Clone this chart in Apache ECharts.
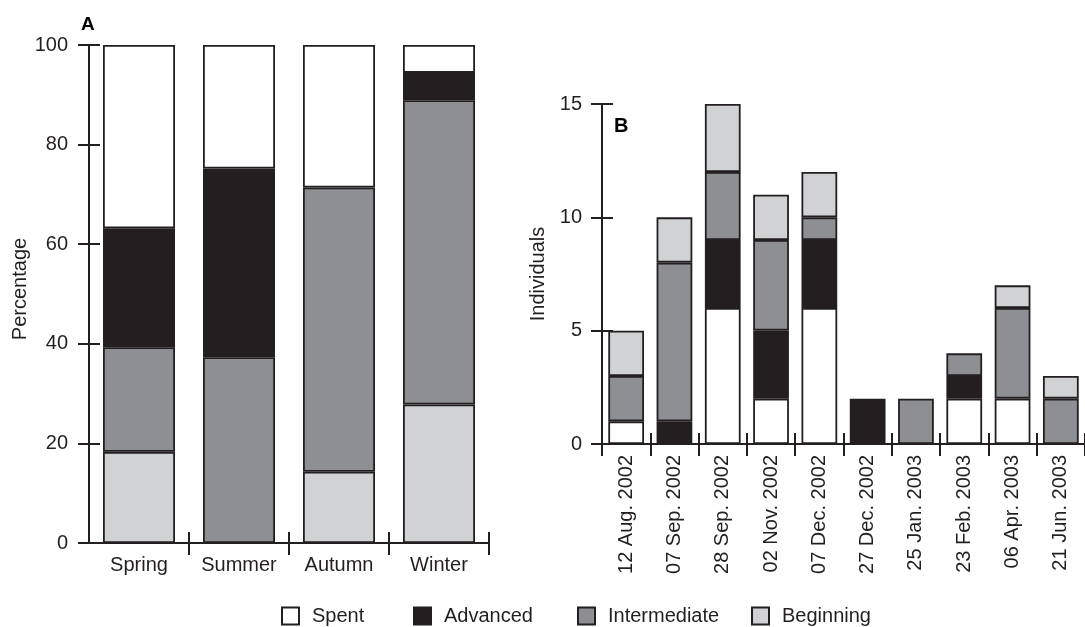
<!DOCTYPE html>
<html>
<head>
<meta charset="utf-8">
<script src="https://cdn.jsdelivr.net/npm/echarts@6/dist/echarts.min.js"></script>
<style>html,body{margin:0;padding:0;background:#fff}#c{width:1085px;height:627px}</style>
</head>
<body>
<div id="c"></div>
<script>
// Panel A: seasonal percentages
var seasons = ['Spring', 'Summer', 'Autumn', 'Winter'];
var seasonBeginning = [18.3, 0, 14.3, 27.8];
var seasonIntermediate = [21.0, 37.3, 57.1, 61.1];
var seasonAdvanced = [23.9, 37.9, 0, 5.5];
var seasonSpent = [36.8, 24.8, 28.6, 5.6];
var percentTicks = [0, 20, 40, 60, 80, 100];

// Panel B: individuals per sampling date
var dates = ['12 Aug. 2002', '07 Sep. 2002', '28 Sep. 2002', '02 Nov. 2002', '07 Dec. 2002',
             '27 Dec. 2002', '25 Jan. 2003', '23 Feb. 2003', '06 Apr. 2003', '21 Jun. 2003'];
var dateSpent = [1, 0, 6, 2, 6, 0, 0, 2, 2, 0];
var dateAdvanced = [0, 1, 3, 3, 3, 2, 0, 1, 0, 0];
var dateIntermediate = [2, 7, 3, 4, 1, 0, 2, 1, 4, 2];
var dateBeginning = [2, 2, 3, 2, 2, 0, 0, 0, 1, 1];
var individualTicks = [0, 5, 10, 15];

var INK = '#231f20';
var FONT = 'Liberation Sans';
var colors = { Spent: '#ffffff', Advanced: '#231f20', Intermediate: '#8e8f92', Beginning: '#d1d2d4' };

function nz(arr) { return arr.map(function (v) { return v === 0 ? null : v; }); }

function barSeries(name, data, xi, yi, stack, width) {
  return {
    name: name, type: 'bar', stack: stack, xAxisIndex: xi, yAxisIndex: yi,
    data: nz(data), barWidth: width,
    itemStyle: { color: colors[name], borderColor: INK, borderWidth: 1.8 },
    emphasis: { disabled: true }, animation: false
  };
}

function valAxis(grid, ticks, outside, labelMargin, name, nameGap, namePad) {
  var step = ticks[1] - ticks[0];
  var base = {
    type: 'value', gridIndex: grid, position: 'left', offset: 0,
    min: ticks[0], max: ticks[ticks.length - 1], interval: step,
    splitLine: { show: false }
  };
  if (outside) {
    return Object.assign(base, {
      name: name, nameLocation: 'middle', nameGap: nameGap,
      nameTextStyle: { color: INK, fontFamily: FONT, fontSize: 20, padding: namePad },
      axisLine: { show: true, lineStyle: { color: INK, width: 2 } },
      axisTick: { show: true, inside: false, length: 11, lineStyle: { color: INK, width: 2 } },
      axisLabel: { show: true, margin: labelMargin, color: INK, fontFamily: FONT, fontSize: 20 }
    });
  }
  return Object.assign(base, {
    axisLine: { show: false },
    axisTick: { show: true, inside: true, length: 11, lineStyle: { color: INK, width: 2 } },
    axisLabel: { show: false }
  });
}

function catAxis(grid, data, outside, labelOpts, tickInterval) {
  var base = { type: 'category', gridIndex: grid, position: 'bottom', offset: 0, data: data, boundaryGap: true };
  if (outside) {
    return Object.assign(base, {
      axisLine: { show: true, lineStyle: { color: INK, width: 2 } },
      axisTick: { show: true, inside: false, length: 12, interval: tickInterval, lineStyle: { color: INK, width: 2 } },
      axisLabel: Object.assign({ show: true, interval: 0, color: INK, fontFamily: FONT, fontSize: 20 }, labelOpts)
    });
  }
  return Object.assign(base, {
    axisLine: { show: false },
    axisTick: { show: true, inside: true, length: 11, interval: 0, lineStyle: { color: INK, width: 2 } },
    axisLabel: { show: false }
  });
}

var legendNames = ['Spent', 'Advanced', 'Intermediate', 'Beginning'];
var legendLefts = [281, 413, 577, 751];

var option = {
  backgroundColor: '#fff',
  animation: false,
  title: [
    { text: 'A', left: 81, top: 15, padding: 0, textStyle: { fontFamily: FONT, fontSize: 19, fontWeight: 'bold', color: '#000' } },
    { text: 'B', left: 614, top: 116, padding: 0, textStyle: { fontFamily: FONT, fontSize: 20, fontWeight: 'bold', color: '#000' } }
  ],
  legend: legendNames.map(function (n, i) {
    return {
      data: [n], left: legendLefts[i], top: 606, padding: 0, icon: 'rect',
      itemWidth: 17, itemHeight: 17, selectedMode: false,
      textStyle: { color: INK, fontFamily: FONT, fontSize: 20, padding: [0, 0, 0, 8] }
    };
  }),
  grid: [
    { left: 89, top: 45, width: 400, height: 498 },
    { left: 602, top: 104, width: 486, height: 340 }
  ],
  xAxis: [
    catAxis(0, seasons, true, { margin: 12 }, function (i) { return i !== 0; }),
    catAxis(0, seasons, false),
    catAxis(1, dates, true, { margin: 11, rotate: 90 }, 0),
    catAxis(1, dates, false)
  ],
  yAxis: [
    valAxis(0, percentTicks, true, 21, 'Percentage', 55, [0, 0, 0, 10]),
    valAxis(0, percentTicks, false),
    valAxis(1, individualTicks, true, 20, 'Individuals', 54, 0),
    valAxis(1, individualTicks, false)
  ],
  series: [
    barSeries('Beginning', seasonBeginning, 0, 0, 'A', '72%'),
    barSeries('Intermediate', seasonIntermediate, 0, 0, 'A', '72%'),
    barSeries('Advanced', seasonAdvanced, 0, 0, 'A', '72%'),
    barSeries('Spent', seasonSpent, 0, 0, 'A', '72%'),
    barSeries('Spent', dateSpent, 2, 2, 'B', '74%'),
    barSeries('Advanced', dateAdvanced, 2, 2, 'B', '74%'),
    barSeries('Intermediate', dateIntermediate, 2, 2, 'B', '74%'),
    barSeries('Beginning', dateBeginning, 2, 2, 'B', '74%')
  ]
};

var chart = echarts.init(document.getElementById('c'), null, { renderer: 'canvas' });
chart.setOption(option);
</script>
</body>
</html>
